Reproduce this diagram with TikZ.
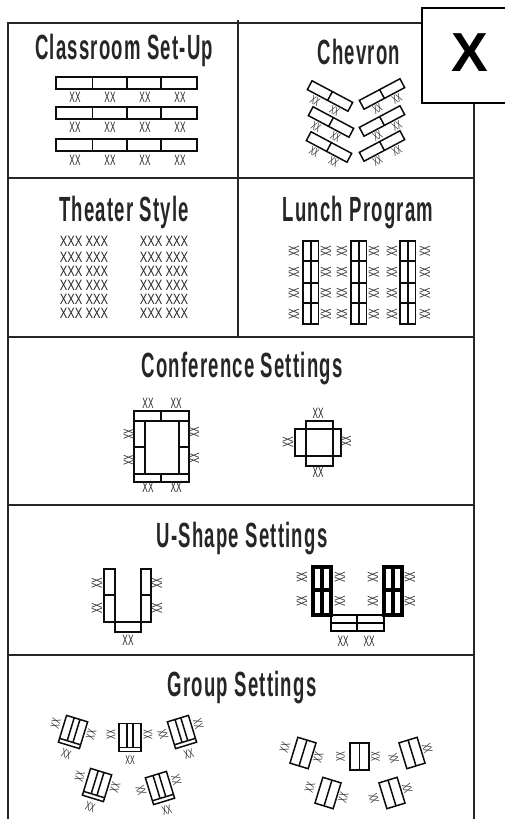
\documentclass[tikz,border=0pt]{standalone}
\usepackage{fontspec}
\usepackage{tikz}
\newfontfamily\titlefont[FakeStretch=0.53,LetterSpace=3.5]{Liberation Sans Bold}
\newfontfamily\seatfont[FakeStretch=0.55]{Liberation Sans}
\newfontfamily\wideseatfont[FakeStretch=0.75]{Liberation Sans}
\newfontfamily\boxfont{Liberation Sans Bold}
\tikzset{
  rule/.style={line width=1.6pt, black!85},
  tbl/.style={draw=black!95, line width=1.5pt},
  thicktbl/.style={draw=black, line width=3.4pt},
  title/.style={inner sep=0pt, font=\titlefont\fontsize{35}{35}\selectfont, text=black!85},
  seat/.style={inner sep=0pt, font=\seatfont\fontsize{15}{15}\selectfont, text=black!85},
  rows/.style={inner sep=0pt, font=\wideseatfont\fontsize{15}{15}\selectfont, text=black!85},
}
% a slanted two part table with two seats below
\newcommand{\chevtable}[4]{
  \begin{scope}[shift={(#2,#3)}, rotate=#4, transform shape]
    \draw [tbl] (-23,-5) rectangle (23,5) (0,-5) -- (0,5);
    \node [seat, scale=.8] (#1a) at (-11,11) {XX};
    \node [seat, scale=.8] (#1b) at (11,11) {XX};
  \end{scope}
}
% U table of the group settings
\newcommand{\grouptable}[4]{
  \begin{scope}[shift={(#2,#3)}, rotate=#4, transform shape]
    \draw [tbl] (-11,-14) rectangle (11,14) (-3,-14) -- (-3,10) -- (3,10) -- (3,-14) (-11,10) -- (11,10);
    \node [seat, rotate=90, scale=.85] (#1a) at (-19,-3) {XX};
    \node [seat, rotate=90, scale=.85] (#1b) at (18,-3) {XX};
    \node [seat, scale=.85] (#1c) at (0,23) {XX};
  \end{scope}
}
% plain double table of the group settings
\newcommand{\pairtable}[4]{
  \begin{scope}[shift={(#2,#3)}, rotate=#4, transform shape]
    \draw [tbl] (-9.5,-13.5) rectangle (9.5,13.5) (0,-13.5) -- (0,13.5);
    \node [seat, rotate=90, scale=.85] (#1a) at (-19,0) {XX};
    \node [seat, rotate=90, scale=.85] (#1b) at (16,0) {XX};
  \end{scope}
}
\begin{document}
\begin{tikzpicture}[x=1pt, y=-1pt]
  \useasboundingbox (0,0) rectangle (505,819);

  % Frame and section lines
  \draw [rule] (8,819) -- (8,23) -- (474,23) -- (474,819);
  \foreach \ypos in {178,337,505,655}
    \draw [rule] (8,\ypos) -- (474,\ypos);
  \draw [rule] (238,20) -- (238,337);

  % Corner box
  \fill [white] (422,8) rectangle (505,103);
  \draw [line width=1.3pt] (505,8) -- (422,8) -- (422,103) -- (505,103);
  \node [inner sep=0pt, font=\boxfont\fontsize{55}{55}\selectfont] (cornerx) at (470,53) {X};

  % Titles
  \node [title] (classroom) at (124,50.5) {Classroom Set-Up};
  \node [title] (chevron) at (359,51.5) {Chevron};
  \node [title] (theater) at (124,212) {Theater Style};
  \node [title] (lunch) at (358,213) {Lunch Program};
  \node [title] (conference) at (242,369) {Conference Settings};
  \node [title] (ushape) at (242,539) {U-Shape Settings};
  \node [title] (group) at (242,688) {Group Settings};

  % Classroom
  \foreach \ypos/\seaty [count=\r] in {77/97,107/127,139/160} {
    \draw [tbl] (56,\ypos) rectangle (197,\ypos+12);
    \foreach \xpos in {92.5,127,161}
      \draw [tbl] (\xpos,\ypos) -- (\xpos,\ypos+12);
    \foreach \xpos [count=\c] in {75,110,145,180}
      \node [seat] (class\r\c) at (\xpos,\seaty) {XX};
  }

  % Chevron
  \chevtable{chevla}{330}{96}{-28}
  \chevtable{chevlb}{331}{122}{-28}
  \chevtable{chevlc}{329}{147}{-28}
  \chevtable{chevra}{382}{94}{28}
  \chevtable{chevrb}{382}{121}{28}
  \chevtable{chevrc}{382}{146}{28}

  % Theater
  \foreach \ypos [count=\r] in {241,257,271,285,299,313} {
    \node [rows] (theatl\r) at (84,\ypos) {XXX XXX};
    \node [rows] (theatr\r) at (164,\ypos) {XXX XXX};
  }

  % Lunch
  \foreach \xpos [count=\c] in {303,351,400} {
    \draw [tbl] (\xpos,241) rectangle (\xpos+15.5,324) (\xpos+7.75,241) -- (\xpos+7.75,324);
    \foreach \ypos in {261,283,303}
      \draw [tbl] (\xpos,\ypos) -- (\xpos+15.5,\ypos);
  }
  \foreach \xpos [count=\c] in {294,326,342,374,392,425}
    \foreach \ypos [count=\r] in {251,272,293,314}
      \node [seat, rotate=90] (lunch\c\r) at (\xpos,\ypos) {XX};

  % Conference, long table
  \draw [tbl] (134,411) rectangle (189,482);
  \draw [tbl] (134,421) -- (189,421) (134,474) -- (189,474) (161,411) -- (161,421) (161,474) -- (161,482);
  \draw [tbl] (145,421) -- (145,474) (179,421) -- (179,474) (134,447) -- (145,447) (179,447) -- (189,447);
  \node [seat] (confa) at (148,403) {XX};
  \node [seat] (confb) at (176,403) {XX};
  \node [seat] (confc) at (148,487) {XX};
  \node [seat] (confd) at (176,487) {XX};
  \node [seat, rotate=90] (confe) at (129,434) {XX};
  \node [seat, rotate=90] (conff) at (129,460) {XX};
  \node [seat, rotate=90] (confg) at (194,432) {XX};
  \node [seat, rotate=90] (confh) at (194,458) {XX};

  % Conference, square table
  \draw [tbl] (306,421) rectangle (333,466);
  \draw [tbl] (295,429) rectangle (341,456);
  \node [seat] (squarea) at (318,413) {XX};
  \node [seat] (squareb) at (318,472) {XX};
  \node [seat, rotate=90] (squarec) at (288,442) {XX};
  \node [seat, rotate=90] (squared) at (346,441) {XX};

  % U-Shape, single
  \draw [tbl] (104,569) rectangle (115,622) (104,595) -- (115,595);
  \draw [tbl] (141,569) rectangle (151,622) (141,595) -- (151,595);
  \draw [tbl] (115,622) rectangle (141,632);
  \node [seat, rotate=90] (ua) at (97,583) {XX};
  \node [seat, rotate=90] (ub) at (97,608) {XX};
  \node [seat, rotate=90] (uc) at (157,583) {XX};
  \node [seat, rotate=90] (ud) at (157,608) {XX};
  \node [seat] (ue) at (128,640) {XX};

  % U-Shape, double
  \draw [thicktbl] (313,567) rectangle (331,615) (322,567) -- (322,615) (313,590) -- (331,590);
  \draw [thicktbl] (384,567) rectangle (402,615) (393,567) -- (393,615) (384,590) -- (402,590);
  \draw [thicktbl, line width=2.6pt] (331,615) rectangle (384,631);
  \draw [thicktbl, line width=2pt] (331,623) -- (384,623) (357,615) -- (357,631);
  \foreach \xpos [count=\c] in {302,340,373,410}
    \foreach \ypos [count=\r] in {577,601}
      \node [seat, rotate=90] (uu\c\r) at (\xpos,\ypos) {XX};
  \node [seat] (uuf) at (343,641) {XX};
  \node [seat] (uug) at (369,641) {XX};

  % Group, U tables
  \grouptable{ga}{73}{732}{-17}
  \grouptable{gb}{130}{737.5}{0}
  \grouptable{gc}{182}{732}{17}
  \grouptable{gd}{97}{785}{-17}
  \grouptable{ge}{160}{788}{17}

  % Group, double tables
  \pairtable{pa}{303}{753}{-17}
  \pairtable{pb}{359.5}{756.5}{0}
  \pairtable{pc}{412}{753}{17}
  \pairtable{pd}{328}{793}{-17}
  \pairtable{pe}{392}{793}{17}
\end{tikzpicture}
\end{document}
